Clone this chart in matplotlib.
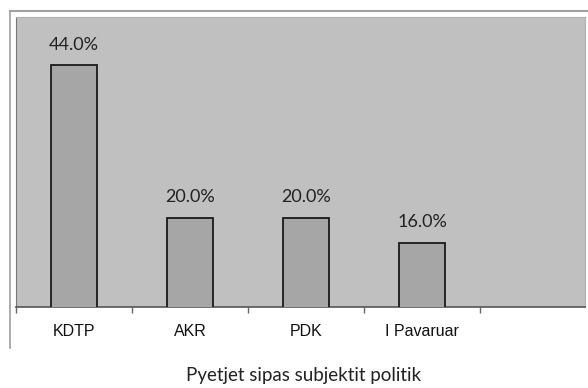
import numpy as np
import matplotlib.pyplot as plt
from matplotlib.lines import Line2D

# data
categories = ["KDTP", "AKR", "PDK", "I Pavaruar", ""]
values = [44.0, 20.0, 20.0, 16.0, np.nan]

W, H = 588, 388
fig = plt.figure(figsize=(W / 100, H / 100), dpi=100)
fig.patch.set_facecolor("white")

# plot area in pixel coords
left, right, top, bottom = 16, 585, 17, 307
ax = fig.add_axes([left / W, 1 - bottom / H, (right - left) / W, (bottom - top) / H])
ax.set_facecolor("#c0c0c0")

x = np.arange(len(categories))
bars = ax.bar(x, values, width=0.4, color="#a6a6a6", edgecolor="#1a1a1a",
              linewidth=1.3, zorder=3)

for xi, v in zip(x, values):
    if np.isnan(v):
        continue
    ax.text(xi, v + 2.0, f"{v:.1f}%", ha="center", va="bottom",
            fontsize=13, color="#222222", family="Lato")

ax.set_xlim(-0.5, (right - left) / 116 - 0.5)
ax.set_ylim(5.9, 51.6)

ax.set_xticks(x)
ax.set_xticklabels(categories, fontsize=11.5, family="Liberation Sans", color="#111111")
ax.tick_params(axis="x", which="major", length=0, pad=12)
ax.set_xticks(np.arange(-0.5, 4.5, 1.0), minor=True)
ax.tick_params(axis="x", which="minor", length=4, width=1, color="#666666", direction="out")
ax.set_yticks([])

for s in ["top", "right"]:
    ax.spines[s].set_color("#b0b0b0")
    ax.spines[s].set_linewidth(0.8)
ax.spines["left"].set_color("#777777")
ax.spines["bottom"].set_color("#555555")
ax.spines["bottom"].set_linewidth(1.2)

# outer chart frame
fig.add_artist(Line2D([10 / W, 1], [1 - 11 / H, 1 - 11 / H], color="#a0a0a0", lw=1.5))
fig.add_artist(Line2D([10 / W, 10 / W], [1 - 11 / H, 1 - 348 / H], color="#a0a0a0", lw=1.2))

fig.text(304 / W, 1 - 375 / H, "Pyetjet sipas subjektit politik", ha="center",
         va="center", fontsize=13.5, family="Lato", color="#222222")

fig.savefig("out.png", dpi=100)
